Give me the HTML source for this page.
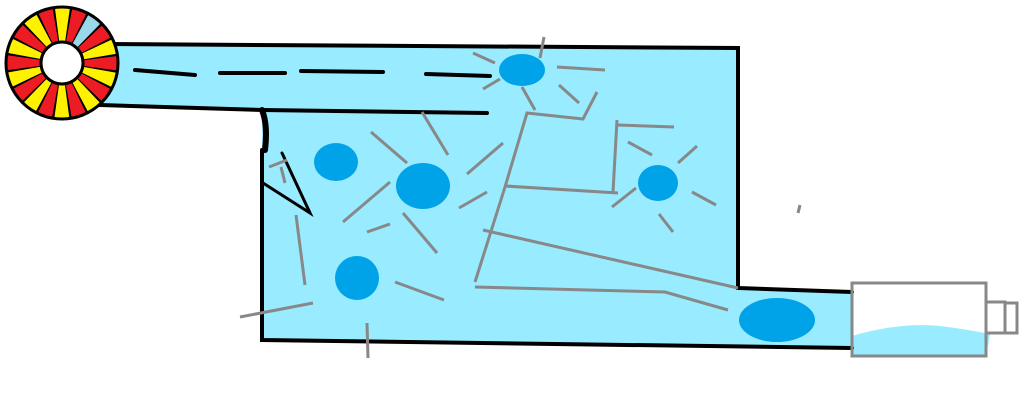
<!DOCTYPE html>
<html><head><meta charset="utf-8"><style>html,body{margin:0;padding:0;background:#fff}svg{display:block}</style></head>
<body>
<svg width="1023" height="400" viewBox="0 0 1023 400" xmlns="http://www.w3.org/2000/svg">
<polygon points="100,44 738,48 738,288 852,292 852,348 262,340 262,110 100,105" fill="#99ebff"/>
<path d="M852,336 Q900,322 940,326 Q965,329 990,334 L986,356 L852,356 Z" fill="#99ebff"/>
<g stroke="#000" stroke-width="4" fill="none" stroke-linecap="round">
<polyline points="100,44 738,48 738,288 852,292"/>
<polyline points="852,348 262,340 262,150"/>
<polyline points="100,105 262,110 487,113"/>
<path d="M262,110 Q268,125 265,150" stroke-width="6"/>
<polyline points="282,153 310,213 263,183" stroke-width="3"/>
<line x1="135" y1="70" x2="195" y2="75"/>
<line x1="220" y1="73" x2="285" y2="73"/>
<line x1="301" y1="71" x2="383" y2="72"/>
<line x1="426" y1="74" x2="490" y2="76"/>
</g>
<g stroke="#888" stroke-width="3" fill="none">
<line x1="473" y1="53" x2="495" y2="63"/>
<line x1="544" y1="37" x2="540" y2="58"/>
<line x1="483" y1="89" x2="500" y2="79"/>
<line x1="557" y1="67" x2="605" y2="70"/>
<line x1="559" y1="85" x2="579" y2="103"/>
<line x1="522" y1="87" x2="535" y2="110"/>
<polyline points="597,92 583,119 527,113 505,187 475,282"/>
<line x1="505" y1="186" x2="618" y2="193"/>
<line x1="617" y1="120" x2="613" y2="192"/>
<line x1="617" y1="125" x2="674" y2="127"/>
<line x1="628" y1="142" x2="652" y2="155"/>
<line x1="678" y1="163" x2="697" y2="146"/>
<line x1="612" y1="207" x2="636" y2="188"/>
<line x1="692" y1="192" x2="716" y2="205"/>
<line x1="659" y1="214" x2="673" y2="232"/>
<line x1="483" y1="230" x2="738" y2="288"/>
<polyline points="475,287 665,292 728,310"/>
<line x1="422" y1="112" x2="448" y2="155"/>
<line x1="371" y1="132" x2="407" y2="163"/>
<line x1="467" y1="174" x2="503" y2="143"/>
<line x1="459" y1="208" x2="487" y2="192"/>
<line x1="390" y1="182" x2="343" y2="222"/>
<line x1="367" y1="232" x2="390" y2="224"/>
<line x1="403" y1="213" x2="437" y2="253"/>
<line x1="395" y1="282" x2="444" y2="300"/>
<line x1="296" y1="215" x2="305" y2="285"/>
<line x1="313" y1="303" x2="240" y2="317"/>
<line x1="367" y1="323" x2="368" y2="358"/>
<line x1="269" y1="167" x2="287" y2="160"/>
<line x1="281" y1="167" x2="285" y2="183"/>
<line x1="800" y1="205" x2="798" y2="213"/>
</g>
<g fill="#00a2e8">
<ellipse cx="522" cy="70" rx="23" ry="16"/>
<ellipse cx="336" cy="162" rx="22" ry="19"/>
<ellipse cx="423" cy="186" rx="27" ry="23"/>
<ellipse cx="658" cy="183" rx="20" ry="18"/>
<ellipse cx="357" cy="278" rx="22" ry="22"/>
<ellipse cx="777" cy="320" rx="38" ry="22"/>
</g>
<g stroke="#888" stroke-width="3" fill="none">
<rect x="852" y="283" width="134" height="73"/>
<rect x="986" y="302" width="19" height="31"/>
<rect x="1005" y="303" width="12" height="30"/>
</g>
<!-- wheel -->
<g fill="none">
<circle cx="62" cy="63" r="38.5" stroke="#fff200" stroke-width="35"/>
<circle cx="62" cy="63" r="38.5" stroke="#ed1c24" stroke-width="35" stroke-dasharray="12.095 12.095" stroke-dashoffset="6.047"/>
<circle cx="62" cy="63" r="38.5" stroke="#99d9ea" stroke-width="35" stroke-dasharray="12.095 229.8" stroke-dashoffset="42.33"/>
<circle cx="62" cy="63" r="38.5" stroke="#000" stroke-width="35" stroke-dasharray="1.6 10.495" stroke-dashoffset="6.847"/>
<circle cx="62" cy="63" r="56" stroke="#000" stroke-width="3"/>
<circle cx="62" cy="63" r="21" fill="#fff" stroke="#000" stroke-width="3"/>
</g>
</svg>
</body></html>
